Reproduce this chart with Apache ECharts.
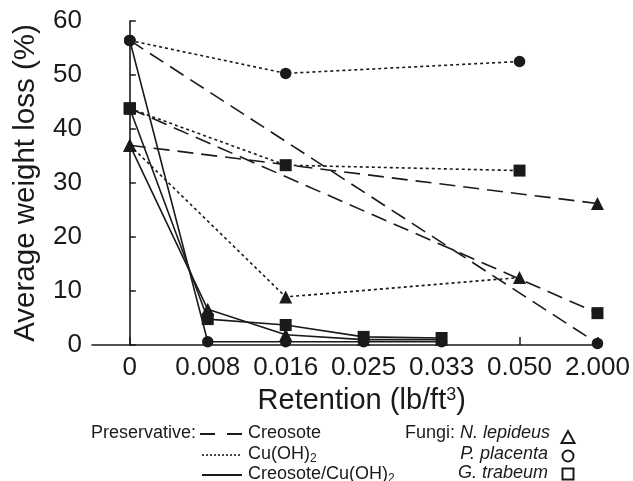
<!DOCTYPE html>
<html>
<head>
<meta charset="utf-8">
<script src="https://cdn.jsdelivr.net/npm/echarts@6/dist/echarts.min.js"></script>
<style>html,body{margin:0;padding:0;background:#fff;}#c{width:633px;height:481px;}</style>
</head>
<body>
<div id="c"></div>
<script>
// Retention categories (x tick labels)
const categories = ['0', '0.008', '0.016', '0.025', '0.033', '0.050', '2.000'];
const yTicks = [0, 10, 20, 30, 40, 50, 60];

// Creosote (dashed)
const creosoteLepideus = [37, null, null, null, null, null, 26.2];
const creosotePlacenta = [56.4, null, null, null, null, null, 0.3];
const creosoteTrabeum  = [43.8, null, null, null, null, null, 5.9];
// Cu(OH)2 (dotted)
const cuLepideus = [37, null, 8.9, null, null, 12.5, null];
const cuPlacenta = [56.4, null, 50.3, null, null, 52.5, null];
const cuTrabeum  = [43.8, null, 33.3, null, null, 32.3, null];
// Creosote/Cu(OH)2 (solid)
const mixLepideus = [37, 6.6, 1.9, 1.0, 1.0, null, null];
const mixPlacenta = [56.4, 0.6, 0.6, 0.6, 0.6, null, null];
const mixTrabeum  = [43.8, 4.8, 3.7, 1.5, 1.3, null, null];

const INK = '#1a1a1a';
const FONT = 'Liberation Sans';

function pairs(arr) {
  const out = [];
  arr.forEach((v, i) => { if (v !== null) out.push([i, v]); });
  return out;
}
function mk(name, data, dash, symbol, size) {
  return {
    name: name, type: 'line', data: pairs(data),
    symbol: symbol, symbolSize: size,
    lineStyle: { color: INK, width: 1.6, type: dash },
    itemStyle: { color: INK, borderWidth: 0 },
    emphasis: { disabled: true }, silent: true
  };
}
const DASH = [16, 8];
const DOT = [3, 3];

const chart = echarts.init(document.getElementById('c'), null, { renderer: 'canvas' });
chart.setOption({
  animation: false,
  backgroundColor: '#fff',
  grid: { left: 92, right: 32, top: 21, bottom: 136, containLabel: false },
  xAxis: {
    type: 'value', min: -0.485, max: categories.length - 1,
    name: 'Retention (lb/ft{sup|3})',
    nameLocation: 'middle', nameGap: 40,
    nameTextStyle: {
      fontFamily: FONT, fontSize: 29, color: INK, padding: [0, 0, 0, 34],
      rich: { sup: { fontFamily: FONT, fontSize: 18, color: INK, padding: [0, 0, 12, 0] } }
    },
    axisLine: { show: true, lineStyle: { color: INK, width: 1.6 } },
    axisTick: { show: true, inside: true, length: 8, lineStyle: { color: INK, width: 1.5 },
      customValues: categories.map((c, i) => i) },
    axisLabel: { fontFamily: FONT, fontSize: 26, color: INK, margin: 10,
      customValues: categories.map((c, i) => i),
      formatter: v => categories[Math.round(v)] },
    splitLine: { show: false }
  },
  yAxis: {
    type: 'value', min: yTicks[0], max: yTicks[yTicks.length - 1], interval: 10,
    name: 'Average weight loss (%)',
    nameLocation: 'middle', nameGap: 51,
    nameTextStyle: { fontFamily: FONT, fontSize: 29.5, color: INK },
    axisLine: { show: true, lineStyle: { color: INK, width: 1.6 } },
    axisTick: { show: true, inside: true, length: 6, lineStyle: { color: INK, width: 1.5 } },
    axisLabel: { fontFamily: FONT, fontSize: 26, color: INK, margin: 10 },
    splitLine: { show: false }
  },
  series: [
    mk('Creosote N. lepideus', creosoteLepideus, DASH, 'triangle', 13),
    mk('Creosote P. placenta', creosotePlacenta, DASH, 'circle', 11.5),
    mk('Creosote G. trabeum', creosoteTrabeum, DASH, 'rect', 12),
    mk('Cu N. lepideus', cuLepideus, DOT, 'triangle', 13),
    mk('Cu P. placenta', cuPlacenta, DOT, 'circle', 11.5),
    mk('Cu G. trabeum', cuTrabeum, DOT, 'rect', 12),
    mk('Mix N. lepideus', mixLepideus, 'solid', 'triangle', 13),
    mk('Mix P. placenta', mixPlacenta, 'solid', 'circle', 11.5),
    mk('Mix G. trabeum', mixTrabeum, 'solid', 'rect', 12)
  ],
  graphic: [
    { type: 'text', left: 91, top: 434 - 10, silent: true,
      style: { text: 'Preservative:', fontFamily: FONT, fontSize: 18, fill: INK } },
    { type: 'line', silent: true, shape: { x1: 200, y1: 434, x2: 215, y2: 434 }, style: { stroke: INK, lineWidth: 2 } },
    { type: 'line', silent: true, shape: { x1: 227, y1: 434, x2: 242, y2: 434 }, style: { stroke: INK, lineWidth: 2 } },
    { type: 'text', left: 248, top: 434 - 10, silent: true,
      style: { text: 'Creosote', fontFamily: FONT, fontSize: 18, fill: INK } },
    { type: 'line', silent: true, shape: { x1: 202, y1: 455, x2: 242, y2: 455 }, style: { stroke: INK, lineWidth: 1.6, lineDash: [2, 2] } },
    { type: 'text', left: 248, top: 455 - 10, silent: true,
      style: { text: 'Cu(OH){sub|2}', fontFamily: FONT, fontSize: 18, fill: INK,
        rich: { sub: { fontFamily: FONT, fontSize: 12, fill: INK, padding: [10, 0, 0, 0] } } } },
    { type: 'line', silent: true, shape: { x1: 202, y1: 475, x2: 242, y2: 475 }, style: { stroke: INK, lineWidth: 2 } },
    { type: 'text', left: 248, top: 475 - 10, silent: true,
      style: { text: 'Creosote/Cu(OH){sub|2}', fontFamily: FONT, fontSize: 18, fill: INK,
        rich: { sub: { fontFamily: FONT, fontSize: 12, fill: INK, padding: [10, 0, 0, 0] } } } },

    { type: 'text', left: 405, top: 434 - 10, silent: true,
      style: { text: 'Fungi:', fontFamily: FONT, fontSize: 18, fill: INK } },
    { type: 'text', right: 633 - 550, top: 434 - 10, silent: true,
      style: { text: 'N. lepideus', fontFamily: FONT, fontSize: 18, fontStyle: 'italic', fill: INK } },
    { type: 'text', right: 633 - 548, top: 455 - 10, silent: true,
      style: { text: 'P. placenta', fontFamily: FONT, fontSize: 18, fontStyle: 'italic', fill: INK } },
    { type: 'text', right: 633 - 548, top: 474 - 10, silent: true,
      style: { text: 'G. trabeum', fontFamily: FONT, fontSize: 18, fontStyle: 'italic', fill: INK } },
    { type: 'polygon', silent: true, shape: { points: [[561.5, 443], [574.5, 443], [568, 431]] },
      style: { fill: 'none', stroke: INK, lineWidth: 2 } },
    { type: 'circle', silent: true, shape: { cx: 568, cy: 456, r: 5.5 },
      style: { fill: 'none', stroke: INK, lineWidth: 2 } },
    { type: 'rect', silent: true, shape: { x: 562.5, y: 468.5, width: 11, height: 11 },
      style: { fill: 'none', stroke: INK, lineWidth: 2 } }
  ]
});
</script>
</body>
</html>
